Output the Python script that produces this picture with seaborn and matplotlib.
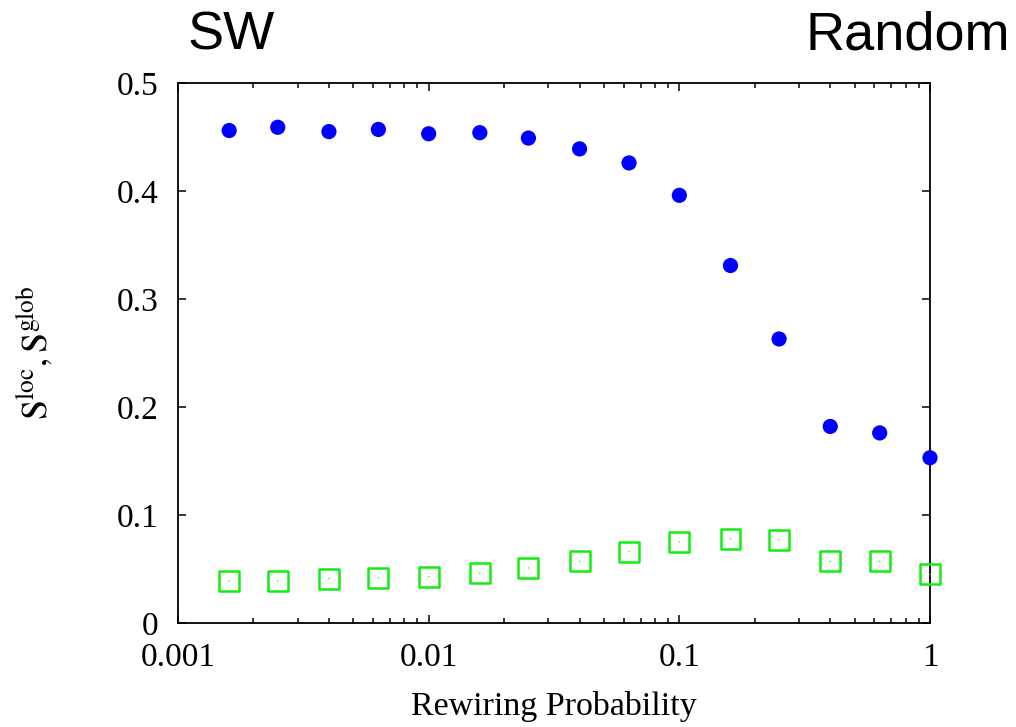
import numpy as np
import pandas as pd
import seaborn as sns
import matplotlib
matplotlib.use("Agg")
import matplotlib.pyplot as plt
from matplotlib.ticker import LogLocator, FixedLocator, FixedFormatter

# rewiring probabilities (0.2 decade steps)
p = [0.0016, 0.0025, 0.004, 0.0063, 0.01, 0.016, 0.025, 0.04, 0.063,
     0.1, 0.16, 0.25, 0.4, 0.63, 1.0]
s_loc = [0.456, 0.459, 0.455, 0.457, 0.453, 0.454, 0.449, 0.439, 0.426,
         0.396, 0.331, 0.263, 0.182, 0.176, 0.153]
s_glob = [0.039, 0.039, 0.041, 0.042, 0.043, 0.046, 0.051, 0.057, 0.066,
          0.075, 0.078, 0.077, 0.057, 0.057, 0.045]
xticks = [0.001, 0.01, 0.1, 1]
xticklabels = ["0.001", "0.01", "0.1", "1"]
yticks = [0, 0.1, 0.2, 0.3, 0.4, 0.5]
yticklabels = ["0", "0.1", "0.2", "0.3", "0.4", "0.5"]

df = pd.DataFrame({"p": p, "loc": s_loc, "glob": s_glob})

sns.set_style("ticks", rc={"axes.edgecolor": "black", "text.color": "black",
                           "axes.labelcolor": "black", "xtick.color": "black",
                           "ytick.color": "black"})
plt.rcParams["font.family"] = ["Liberation Serif", "DejaVu Serif"]
plt.rcParams["mathtext.fontset"] = "stix"

fig = plt.figure(figsize=(10.16, 7.27), dpi=100)
ax = fig.add_axes([178/1016, 1-623/727, (930-178)/1016, (623-83)/727])

sns.scatterplot(data=df, x="p", y="loc", ax=ax, marker="o", s=120,
                color="#0000ff", edgecolor="none", clip_on=False, zorder=3)
sns.scatterplot(data=df, x="p", y="glob", ax=ax, marker="s", s=205,
                facecolor="none", edgecolor="#11ee11", linewidth=1.8,
                clip_on=False, zorder=3)
sns.scatterplot(data=df, x="p", y="glob", ax=ax, marker=".", s=4,
                color="#11ee11", edgecolor="none", clip_on=False, zorder=3)

ax.set_xscale("log")
ax.set_xlim(0.001, 1)
ax.set_ylim(0, 0.5)
ax.xaxis.set_major_locator(FixedLocator(xticks))
ax.xaxis.set_major_formatter(FixedFormatter(xticklabels))
ax.xaxis.set_minor_locator(LogLocator(base=10, subs=np.arange(2, 10)))
ax.yaxis.set_major_locator(FixedLocator(yticks))
ax.yaxis.set_major_formatter(FixedFormatter(yticklabels))

for s in ax.spines.values():
    s.set_visible(True)
    s.set_linewidth(1.3)
ax.tick_params(which="both", direction="in", top=True, right=True,
               labelsize=24, width=1.1)
ax.tick_params(which="major", length=6, pad=14)
ax.tick_params(which="minor", length=3.5)
ax.tick_params(axis="x", which="major", pad=14)

ax.set_xlabel("Rewiring Probability", fontsize=24.5, labelpad=13)
ax.set_ylabel(r"$\mathrm{S^{loc}, S^{glob}}$", fontsize=26, labelpad=44)

fig.text(187/1016, 1-36/727, "SW", fontsize=39, family="Liberation Sans",
         ha="left", va="center")
fig.text(1010/1016, 1-36/727, "Random", fontsize=39, family="Liberation Sans",
         ha="right", va="center")

fig.savefig("out.png", dpi=100)
